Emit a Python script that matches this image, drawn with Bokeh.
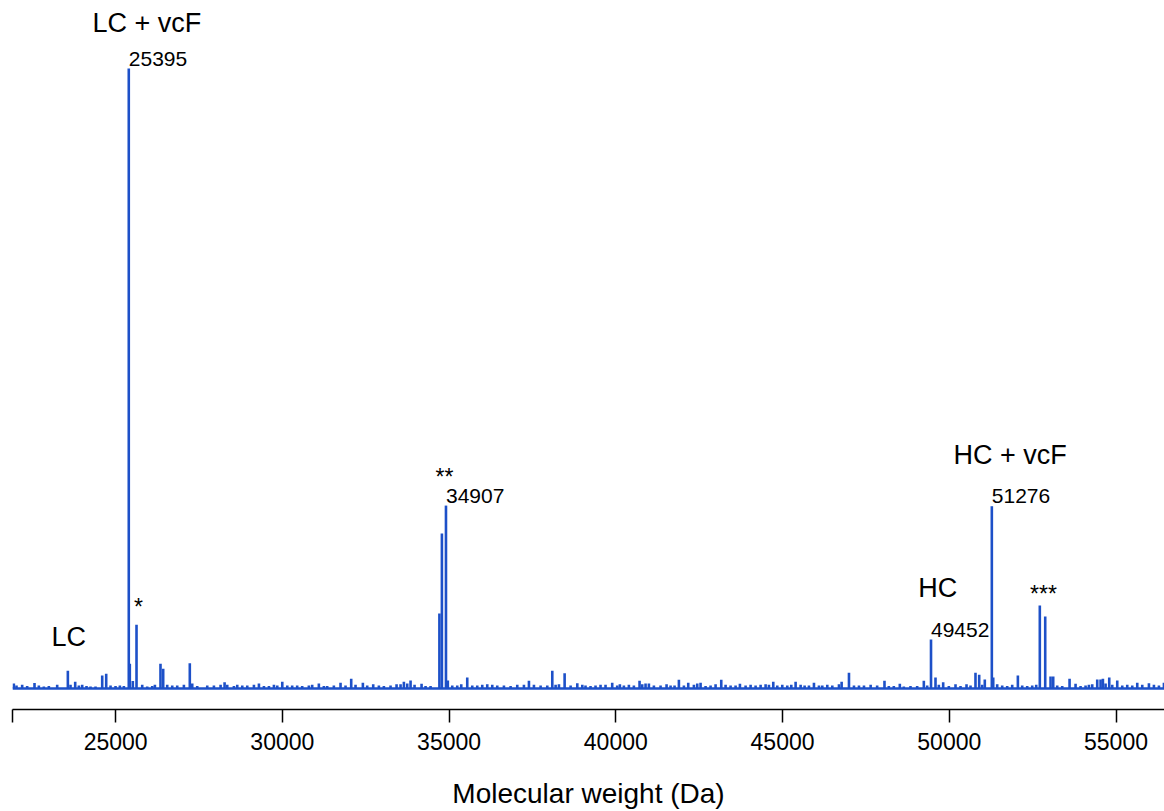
from bokeh.plotting import figure
from bokeh.models import ColumnDataSource, FixedTicker, Range1d, Span
from bokeh.core.properties import value
from bokeh.embed import file_html
from bokeh.resources import INLINE

# Deconvoluted spectrum: peak centroids (Da) and relative intensity (%)
peak_mass = [
    21948, 22028, 22198, 22348, 22568, 22698, 22848, 22998, 23248, 23568,
    23648, 23788, 23898, 23998, 24128, 24248, 24398, 24598, 24718, 24848,
    24998, 25128, 25248, 25395, 25426, 25516, 25627, 25798, 25948, 26098,
    26178, 26346, 26427, 26548, 26698, 26848, 27048, 27225, 27298, 27448,
    27748, 27948, 28148, 28268, 28348, 28548, 28648, 28798, 28948, 29148,
    29298, 29448, 29598, 29748, 29848, 29998, 30148,
    30295, 30445, 30595, 30795, 30895, 31095, 31245, 31345, 31545, 31745,
    31895, 32065, 32195, 32415, 32545, 32725, 32895, 33045, 33245, 33425,
    33545, 33645, 33745, 33845, 33965, 34175, 34295, 34445, 34710, 34785,
    34907, 34962, 35095, 35245, 35365, 35545, 35695, 35845, 35995, 36145,
    36295, 36445, 36645, 36845, 37045, 37245, 37395, 37545, 37745, 37945,
    38095, 38195, 38295, 38465, 38645, 38845, 38995,
    39092, 39242, 39392, 39542, 39692, 39892, 40042, 40122, 40242, 40392,
    40542, 40712, 40792, 40892, 40992, 41142, 41342, 41522, 41642, 41762,
    41892, 42042, 42172, 42342, 42442, 42542, 42692, 42842, 42992, 43162,
    43292, 43442, 43592, 43722, 43892, 44042, 44192, 44342, 44492, 44592,
    44722, 44842, 44992, 45142, 45262, 45392, 45542, 45662, 45792, 45942,
    46092, 46192, 46342, 46492, 46692, 46772, 46992, 47142, 47292, 47442,
    47642, 47837, 48057, 48187, 48337, 48517, 48637, 48837, 49037, 49237,
    49337, 49452, 49587, 49687, 49817, 49987, 50187, 50337, 50517, 50637,
    50786, 50897, 50987, 51065, 51276, 51318, 51437, 51587, 51737, 51887,
    52057, 52187, 52337, 52487, 52607, 52715, 52877, 53037, 53117, 53237,
    53387, 53607, 53787, 53937, 54087, 54187, 54287, 54437, 54537, 54607,
    54687, 54797, 54887, 55037, 55187, 55337, 55487, 55637, 55787, 55987,
    56137, 56287, 56437,
]
peak_int = [
    0.8, 0.5, 0.6, 0.4, 0.9, 0.5, 0.3, 0.4, 0.6, 2.85,
    0.6, 1.08, 0.5, 0.6, 0.4, 0.3, 0.3, 2.1, 2.37, 0.5,
    0.4, 0.5, 0.4, 100.0, 4.0, 1.2, 10.3, 0.6, 0.3, 0.4,
    0.6, 3.98, 3.18, 0.6, 0.5, 0.5, 0.6, 4.08, 0.8, 0.4,
    0.5, 0.5, 0.6, 1.0, 0.6, 0.4, 0.6, 0.5, 0.5, 0.6,
    0.8, 0.4, 0.4, 0.6, 0.5, 1.08, 0.5,
    0.5, 0.5, 0.4, 0.5, 0.6, 0.8, 0.4, 0.4, 0.5, 0.92,
    0.5, 1.56, 0.6, 0.92, 0.5, 0.7, 0.5, 0.4, 0.5, 0.7,
    0.7, 1.08, 0.8, 1.29, 0.6, 0.75, 0.4, 0.4, 12.1, 25.0,
    29.5, 1.3, 0.5, 0.5, 0.7, 1.77, 0.5, 0.5, 0.6, 0.7,
    0.6, 0.5, 0.5, 0.4, 0.6, 0.6, 1.24, 0.6, 0.5, 0.5,
    2.85, 0.6, 0.7, 2.47, 0.5, 0.86, 0.6,
    0.5, 0.4, 0.5, 0.6, 0.6, 0.92, 0.5, 0.7, 0.5, 0.6,
    0.5, 1.24, 0.7, 0.8, 0.8, 0.5, 0.5, 0.7, 0.5, 0.5,
    1.4, 0.5, 0.92, 0.6, 0.8, 0.92, 0.4, 0.5, 0.7, 1.4,
    0.6, 0.5, 0.5, 0.75, 0.5, 0.6, 0.5, 0.6, 0.7, 0.6,
    1.08, 0.5, 0.6, 0.5, 0.6, 1.08, 0.6, 0.5, 0.5, 0.92,
    0.5, 0.5, 0.6, 0.5, 0.7, 1.08, 2.53, 0.5, 0.5, 0.5,
    0.6, 0.5, 1.24, 0.4, 0.4, 0.75, 0.3, 0.4, 0.4, 1.24,
    0.5, 7.9, 1.77, 0.6, 1.0, 0.4, 0.7, 0.4, 0.7, 0.5,
    2.53, 2.2, 0.6, 1.45, 29.4, 1.77, 0.7, 0.5, 0.4, 0.6,
    2.1, 0.5, 0.4, 0.5, 0.6, 13.4, 11.6, 1.94, 1.94, 0.5,
    0.4, 1.56, 0.75, 0.4, 0.5, 0.6, 0.7, 1.45, 1.45, 1.56,
    0.8, 1.77, 0.6, 1.29, 0.5, 0.6, 0.5, 0.92, 0.6, 0.86,
    0.6, 0.5, 0.92,
]

# Peaks annotated with their mass
labelled_mass = [25395, 34907, 49452, 51276]

# Species annotations
species_text = ["LC + vcF", "LC", "HC", "HC + vcF"]
species_x = [24307, 23078, 49068, 50127]
species_y = [105.8, 6.66, 14.56, 36.08]

# Side-product markers
marker_text = ["*", "**", "***"]
marker_x = [25687, 34863, 52826]
marker_y = [11.61, 32.42, 13.55]

tick_values = [25000, 30000, 35000, 40000, 45000, 50000, 55000]
x_title = "Molecular weight (Da)"

x_lo, x_hi = 21908, 56454
y_lo, y_hi = -3.39, 110.97

BLUE = "#1d50c8"
FONT = "Liberation Sans"
TEXT_SHIFT = -10  # lift glyph text so its baseline sits on the anchor

p = figure(
    width=1164, height=811,
    x_range=Range1d(x_lo, x_hi), y_range=Range1d(y_lo, y_hi),
    output_backend="svg", toolbar_location=None,
    y_axis_location=None,
    min_border_left=12, min_border_right=0, min_border_top=0,
    min_border_bottom=102,
)
p.outline_line_color = None
p.grid.visible = False
p.background_fill_color = "white"
p.border_fill_color = "white"

# baseline of the spectrum
p.add_layout(Span(location=0, dimension="width", line_color=BLUE, line_width=2.6))

spec = ColumnDataSource(dict(
    x=peak_mass, y0=[0.0] * len(peak_mass), y1=peak_int,
))
p.segment(x0="x", y0="y0", x1="x", y1="y1", source=spec,
          line_color=BLUE, line_width=2.6, line_cap="butt")

lab_int = [peak_int[peak_mass.index(m)] for m in labelled_mass]
num_src = ColumnDataSource(dict(
    x=labelled_mass, y=lab_int, text=[str(m) for m in labelled_mass],
))
p.text(x="x", y="y", text="text", source=num_src, y_offset=TEXT_SHIFT,
       text_font=value(FONT), text_font_size=value("21px"),
       text_color="black", text_align="left", text_baseline="alphabetic")

sp_src = ColumnDataSource(dict(x=species_x, y=species_y, text=species_text))
p.text(x="x", y="y", text="text", source=sp_src, y_offset=TEXT_SHIFT,
       text_font=value(FONT), text_font_size=value("27px"),
       text_color="black", text_align="left", text_baseline="alphabetic")

mk_src = ColumnDataSource(dict(x=marker_x, y=marker_y, text=marker_text))
p.text(x="x", y="y", text="text", source=mk_src, y_offset=TEXT_SHIFT,
       text_font=value(FONT), text_font_size=value("23px"),
       text_color="black", text_align="center", text_baseline="alphabetic")

ax = p.xaxis[0]
ax.ticker = FixedTicker(ticks=[x_lo + 1] + tick_values)
ax.major_label_overrides = {x_lo + 1: ""}
ax.axis_line_color = "black"
ax.axis_line_width = 1.5
ax.major_tick_line_color = "black"
ax.major_tick_line_width = 1.5
ax.major_tick_in = 0
ax.major_tick_out = 13
ax.minor_tick_line_color = None
ax.major_label_text_font = FONT
ax.major_label_text_font_size = "23px"
ax.major_label_text_color = "black"
ax.major_label_standoff = 10
ax.axis_label = x_title
ax.axis_label_text_font = FONT
ax.axis_label_text_font_size = "28px"
ax.axis_label_text_font_style = "normal"
ax.axis_label_text_color = "black"
ax.axis_label_standoff = 25

open("out.html", "w").write(file_html(p, INLINE))
